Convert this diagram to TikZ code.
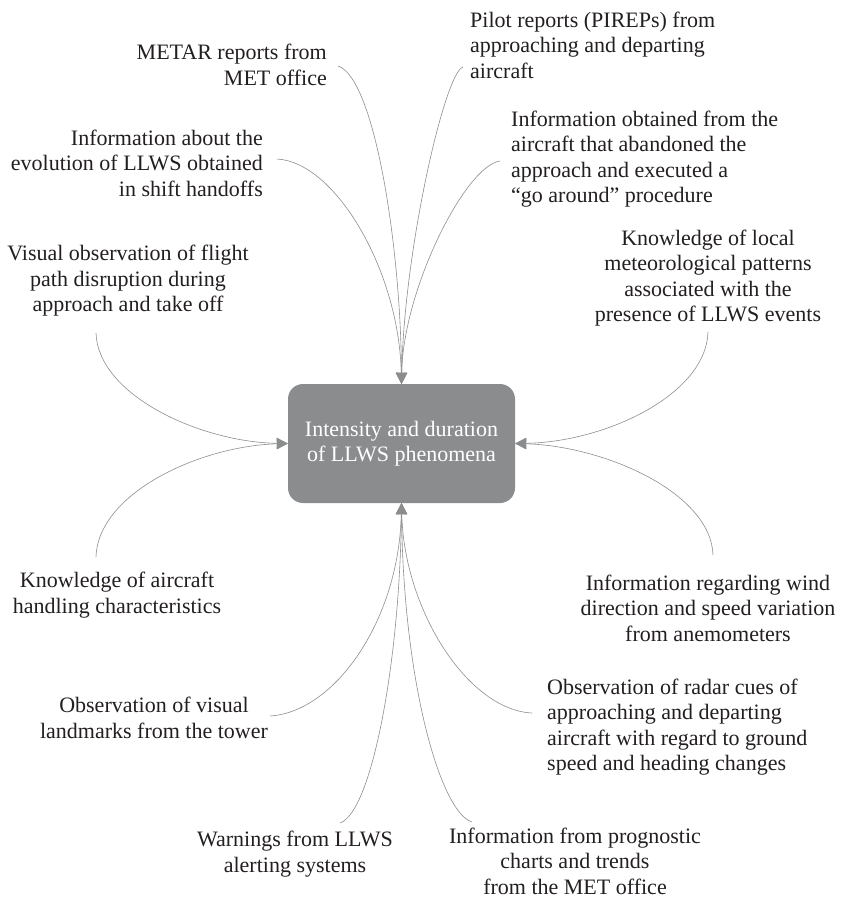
\documentclass[tikz,border=0pt]{standalone}
\usepackage{fontspec}
\setmainfont{Liberation Serif}
\usetikzlibrary{arrows.meta}
\definecolor{boxgray}{HTML}{8B8C8E}
\definecolor{linegray}{HTML}{8E8E8E}
\definecolor{inkdark}{HTML}{231F20}
\begin{document}
\begin{tikzpicture}[x=1pt,y=-1pt,
  lbl/.style={inner sep=0pt,text=inkdark,font=\fontsize{22}{25.5}\selectfont},
  core/.style={rounded corners=15pt,fill=boxgray,minimum width=227pt,minimum height=119pt,
    inner sep=0pt,align=center,text=white,font=\fontsize{22}{25.5}\selectfont},
  feed/.style={draw=linegray,line width=0.6pt,-{Triangle[length=11pt,width=11pt,fill=boxgray,color=boxgray]}}]
\useasboundingbox (0,0) rectangle (841,901);
\fill[white] (0,0) rectangle (841,901);

% central node
\node[core] (box) at (401.5,443.5) {Intensity and duration\\of LLWS phenomena};

% sources above
\node[lbl,anchor=east,align=right] (metar) at (327,65) {METAR reports from\\MET office};
\node[lbl,anchor=west,align=left] (pirep) at (470,45) {Pilot reports (PIREPs) from\\approaching and departing\\aircraft};
\node[lbl,anchor=east,align=right] (shift) at (263,163) {Information about the\\evolution of LLWS obtained\\in shift handoffs};
\node[lbl,anchor=west,align=left] (goaround) at (511,159) {Information obtained from the\\aircraft that abandoned the\\approach and executed a\\“go around” procedure};

% sources at the sides
\node[lbl,align=center] (visual) at (128,281) {Visual observation of flight\\path disruption during\\approach and take off};
\node[lbl,align=center] (local) at (708,278) {Knowledge of local\\meteorological patterns\\associated with the\\presence of LLWS events};
\node[lbl,align=center] (handling) at (117,595) {Knowledge of aircraft\\handling characteristics};
\node[lbl,align=center] (wind) at (708,608) {Information regarding wind\\direction and speed variation\\from anemometers};

% sources below
\node[lbl,align=center] (landmarks) at (154,718) {Observation of visual\\landmarks from the tower};
\node[lbl,anchor=west,align=left] (radar) at (547,727) {Observation of radar cues of\\approaching and departing\\aircraft with regard to ground\\speed and heading changes};
\node[lbl,align=center] (alerts) at (295,854) {Warnings from LLWS\\alerting systems};
\node[lbl,align=center] (charts) at (575,861) {Information from prognostic\\charts and trends\\from the MET office};

% free ends of the connectors
\coordinate (s-metar) at (338,66);
\coordinate (s-pirep) at (463,67);
\coordinate (s-shift) at (277,159);
\coordinate (s-goaround) at (500,161);
\coordinate (s-visual) at (96,333);
\coordinate (s-local) at (708,332);
\coordinate (s-handling) at (96,557);
\coordinate (s-wind) at (713,555);
\coordinate (s-landmarks) at (270,716);
\coordinate (s-radar) at (532,713);
\coordinate (s-alerts) at (340,823);
\coordinate (s-charts) at (472,822);

% connectors into the top of the box
\draw[feed] (s-metar) .. controls (375,78) and (401,250) .. (box.north);
\draw[feed] (s-shift) .. controls (335,162) and (399,270) .. (box.north);
\draw[feed] (s-pirep) .. controls (445,72) and (404,250) .. (box.north);
\draw[feed] (s-goaround) .. controls (465,166) and (403,290) .. (box.north);

% connectors into the sides
\draw[feed] (s-visual) .. controls (98,395) and (200,442) .. (box.west);
\draw[feed] (s-handling) .. controls (98,493) and (200,446) .. (box.west);
\draw[feed] (s-local) .. controls (706,395) and (605,442) .. (box.east);
\draw[feed] (s-wind) .. controls (711,493) and (605,446) .. (box.east);

% connectors into the bottom of the box
\draw[feed] (s-landmarks) .. controls (335,712) and (399,620) .. (box.south);
\draw[feed] (s-alerts) .. controls (372,812) and (400,660) .. (box.south);
\draw[feed] (s-radar) .. controls (468,710) and (404,610) .. (box.south);
\draw[feed] (s-charts) .. controls (440,812) and (403,680) .. (box.south);
\end{tikzpicture}
\end{document}
